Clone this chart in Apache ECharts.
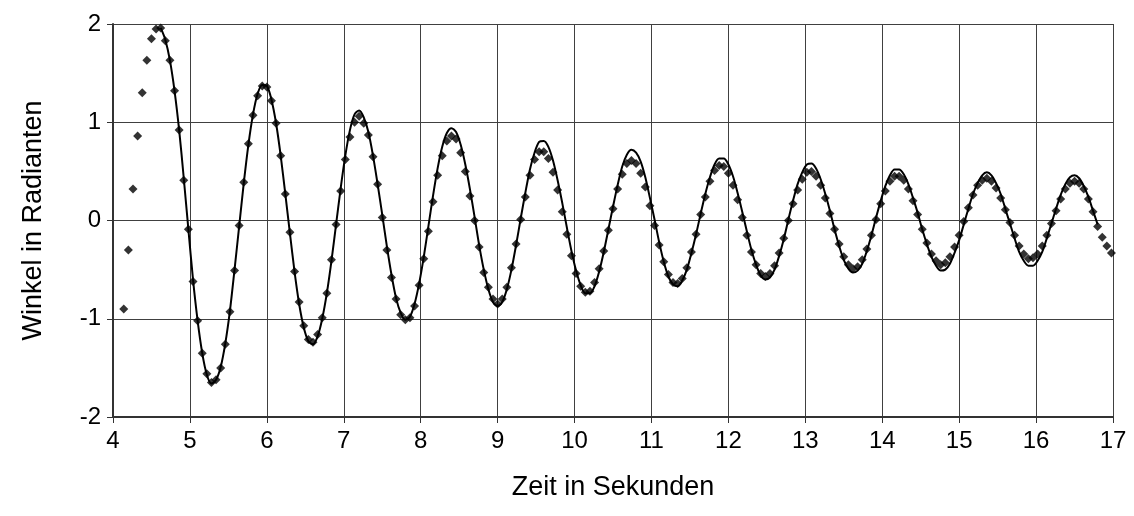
<!DOCTYPE html>
<html>
<head>
<meta charset="utf-8">
<script src="https://cdn.jsdelivr.net/npm/echarts@6/dist/echarts.min.js"></script>
<style>
  html, body { margin: 0; padding: 0; background: #fff; }
  #chart { width: 1134px; height: 516px; }
</style>
</head>
<body>
<div id="chart"></div>
<script>
// Messzeitpunkte (s)
const zeit = [
  4.14, 4.20, 4.26, 4.32, 4.38, 4.44, 4.50, 4.56, 4.62, 4.68,
  4.74, 4.80, 4.86, 4.92, 4.98, 5.04, 5.10, 5.16, 5.22, 5.28,
  5.34, 5.40, 5.46, 5.52, 5.58, 5.64, 5.70, 5.76, 5.82, 5.88,
  5.94, 6.00, 6.06, 6.12, 6.18, 6.24, 6.30, 6.36, 6.42, 6.48,
  6.54, 6.60, 6.66, 6.72, 6.78, 6.84, 6.90, 6.96, 7.02, 7.08,
  7.14, 7.20, 7.26, 7.32, 7.38, 7.44, 7.50, 7.56, 7.62, 7.68,
  7.74, 7.80, 7.86, 7.92, 7.98, 8.04, 8.10, 8.16, 8.22, 8.28,
  8.34, 8.40, 8.46, 8.52, 8.58, 8.64, 8.70, 8.76, 8.82, 8.88,
  8.94, 9.00, 9.06, 9.12, 9.18, 9.24, 9.30, 9.36, 9.42, 9.48,
  9.54, 9.60, 9.66, 9.72, 9.78, 9.84, 9.90, 9.96, 10.02, 10.08,
  10.14, 10.20, 10.26, 10.32, 10.38, 10.44, 10.50, 10.56, 10.62, 10.68,
  10.74, 10.80, 10.86, 10.92, 10.98, 11.04, 11.10, 11.16, 11.22, 11.28,
  11.34, 11.40, 11.46, 11.52, 11.58, 11.64, 11.70, 11.76, 11.82, 11.88,
  11.94, 12.00, 12.06, 12.12, 12.18, 12.24, 12.30, 12.36, 12.42, 12.48,
  12.54, 12.60, 12.66, 12.72, 12.78, 12.84, 12.90, 12.96, 13.02, 13.08,
  13.14, 13.20, 13.26, 13.32, 13.38, 13.44, 13.50, 13.56, 13.62, 13.68,
  13.74, 13.80, 13.86, 13.92, 13.98, 14.04, 14.10, 14.16, 14.22, 14.28,
  14.34, 14.40, 14.46, 14.52, 14.58, 14.64, 14.70, 14.76, 14.82, 14.88,
  14.94, 15.00, 15.06, 15.12, 15.18, 15.24, 15.30, 15.36, 15.42, 15.48,
  15.54, 15.60, 15.66, 15.72, 15.78, 15.84, 15.90, 15.96, 16.02, 16.08,
  16.14, 16.20, 16.26, 16.32, 16.38, 16.44, 16.50, 16.56, 16.62, 16.68,
  16.74, 16.80, 16.86, 16.92, 16.98
];

// gemessener Winkel (rad)
const winkel = [
  -0.90, -0.30, 0.32, 0.86, 1.30, 1.63, 1.85, 1.95, 1.96, 1.83,
  1.63, 1.32, 0.92, 0.41, -0.09, -0.62, -1.02, -1.35, -1.56, -1.65,
  -1.62, -1.50, -1.26, -0.93, -0.51, -0.05, 0.39, 0.78, 1.07, 1.27,
  1.37, 1.36, 1.22, 0.99, 0.66, 0.27, -0.12, -0.52, -0.83, -1.07,
  -1.21, -1.24, -1.16, -0.99, -0.74, -0.40, -0.04, 0.30, 0.62, 0.85,
  1.00, 1.06, 0.99, 0.87, 0.65, 0.37, 0.03, -0.30, -0.58, -0.80,
  -0.96, -1.01, -0.99, -0.87, -0.66, -0.39, -0.11, 0.19, 0.46, 0.66,
  0.81, 0.86, 0.83, 0.69, 0.50, 0.25, 0.00, -0.27, -0.53, -0.68,
  -0.80, -0.85, -0.80, -0.68, -0.48, -0.24, 0.01, 0.24, 0.46, 0.62,
  0.70, 0.70, 0.63, 0.49, 0.31, 0.09, -0.14, -0.36, -0.54, -0.67,
  -0.73, -0.72, -0.63, -0.49, -0.31, -0.10, 0.12, 0.32, 0.47, 0.58,
  0.61, 0.58, 0.48, 0.34, 0.15, -0.05, -0.25, -0.42, -0.55, -0.63,
  -0.64, -0.59, -0.48, -0.32, -0.14, 0.06, 0.24, 0.40, 0.51, 0.56,
  0.55, 0.48, 0.36, 0.21, 0.03, -0.15, -0.32, -0.45, -0.54, -0.57,
  -0.54, -0.46, -0.33, -0.18, 0.00, 0.17, 0.31, 0.42, 0.49, 0.50,
  0.45, 0.36, 0.23, 0.07, -0.09, -0.24, -0.37, -0.45, -0.49, -0.47,
  -0.40, -0.29, -0.15, 0.01, 0.17, 0.30, 0.40, 0.45, 0.45, 0.41,
  0.32, 0.20, 0.06, -0.09, -0.23, -0.34, -0.41, -0.45, -0.43, -0.37,
  -0.27, -0.15, -0.01, 0.13, 0.26, 0.36, 0.41, 0.43, 0.40, 0.33,
  0.23, 0.11, -0.02, -0.15, -0.26, -0.34, -0.39, -0.38, -0.34, -0.26,
  -0.15, -0.03, 0.10, 0.22, 0.32, 0.38, 0.40, 0.38, 0.32, 0.22,
  0.09, -0.06, -0.17, -0.26, -0.33
];

// angepasste Kurve (rad), null = nicht gezeichnet
const kurve = [
  null, null, null, null, null, null, null, null, 1.96, 1.84,
  1.63, 1.32, 0.92, 0.43, -0.09, -0.60, -1.02, -1.35, -1.57, -1.66,
  -1.62, -1.49, -1.25, -0.92, -0.50, -0.06, 0.38, 0.77, 1.08, 1.29,
  1.38, 1.37, 1.23, 0.99, 0.66, 0.27, -0.13, -0.52, -0.85, -1.09,
  -1.23, -1.26, -1.18, -1.00, -0.74, -0.41, -0.04, 0.33, 0.66, 0.92,
  1.08, 1.12, 1.05, 0.90, 0.66, 0.37, 0.06, -0.26, -0.55, -0.79,
  -0.94, -1.01, -0.98, -0.85, -0.64, -0.37, -0.06, 0.25, 0.53, 0.75,
  0.89, 0.94, 0.90, 0.77, 0.57, 0.32, 0.04, -0.25, -0.50, -0.70,
  -0.83, -0.87, -0.83, -0.70, -0.50, -0.25, 0.02, 0.28, 0.52, 0.69,
  0.80, 0.81, 0.75, 0.61, 0.41, 0.18, -0.07, -0.31, -0.51, -0.66,
  -0.74, -0.74, -0.67, -0.52, -0.32, -0.09, 0.14, 0.36, 0.55, 0.67,
  0.72, 0.69, 0.60, 0.44, 0.23, 0.01, -0.22, -0.42, -0.57, -0.65,
  -0.67, -0.61, -0.50, -0.33, -0.14, 0.07, 0.27, 0.44, 0.57, 0.63,
  0.63, 0.57, 0.45, 0.28, 0.09, -0.11, -0.30, -0.45, -0.56, -0.60,
  -0.58, -0.50, -0.36, -0.19, 0.01, 0.20, 0.37, 0.49, 0.57, 0.58,
  0.53, 0.42, 0.27, 0.10, -0.09, -0.26, -0.40, -0.49, -0.53, -0.51,
  -0.44, -0.31, -0.15, 0.03, 0.20, 0.35, 0.46, 0.52, 0.52, 0.47,
  0.37, 0.23, 0.08, -0.09, -0.24, -0.37, -0.46, -0.51, -0.50, -0.44,
  -0.33, -0.20, -0.04, 0.12, 0.27, 0.38, 0.46, 0.49, 0.46, 0.38,
  0.27, 0.12, -0.03, -0.18, -0.32, -0.41, -0.46, -0.46, -0.41, -0.32,
  -0.18, -0.03, 0.12, 0.26, 0.37, 0.44, 0.46, 0.43, 0.35, 0.24,
  0.10, -0.04, null, null, null
];

const font = 'Liberation Sans, Arial, sans-serif';

const messPunkte = zeit.map((t, i) => [t, winkel[i]]);
const kurvenPunkte = zeit
  .map((t, i) => [t, kurve[i]])
  .filter(p => p[1] !== null);

const chart = echarts.init(document.getElementById('chart'));

const achse = {
  axisLine: { show: true, onZero: false, lineStyle: { color: '#333', width: 2 } },
  axisTick: { show: true, inside: false, length: 6, lineStyle: { color: '#333', width: 1 } },
  splitLine: { show: true, lineStyle: { color: '#404040', width: 1 } },
  axisLabel: { color: '#000', fontSize: 24, fontFamily: font, margin: 12 },
  nameTextStyle: { color: '#000', fontSize: 27, fontFamily: font }
};

chart.setOption({
  animation: false,
  backgroundColor: '#fff',
  grid: { left: 113, right: 21, top: 24, bottom: 99 },
  xAxis: Object.assign({}, achse, {
    type: 'value',
    min: 4,
    max: 17,
    interval: 1,
    name: 'Zeit in Sekunden',
    nameLocation: 'middle',
    nameGap: 57
  }),
  yAxis: Object.assign({}, achse, {
    type: 'value',
    min: -2,
    max: 2,
    interval: 1,
    name: 'Winkel in Radianten',
    nameLocation: 'middle',
    nameGap: 66
  }),
  series: [
    {
      name: 'Messung',
      type: 'scatter',
      symbol: 'diamond',
      symbolSize: 9,
      itemStyle: { color: '#000' },
      data: messPunkte,
      z: 2
    },
    {
      name: 'Kurve',
      type: 'line',
      smooth: 0.3,
      showSymbol: false,
      lineStyle: { color: '#000', width: 2 },
      data: kurvenPunkte,
      z: 3
    }
  ]
});
</script>
</body>
</html>
